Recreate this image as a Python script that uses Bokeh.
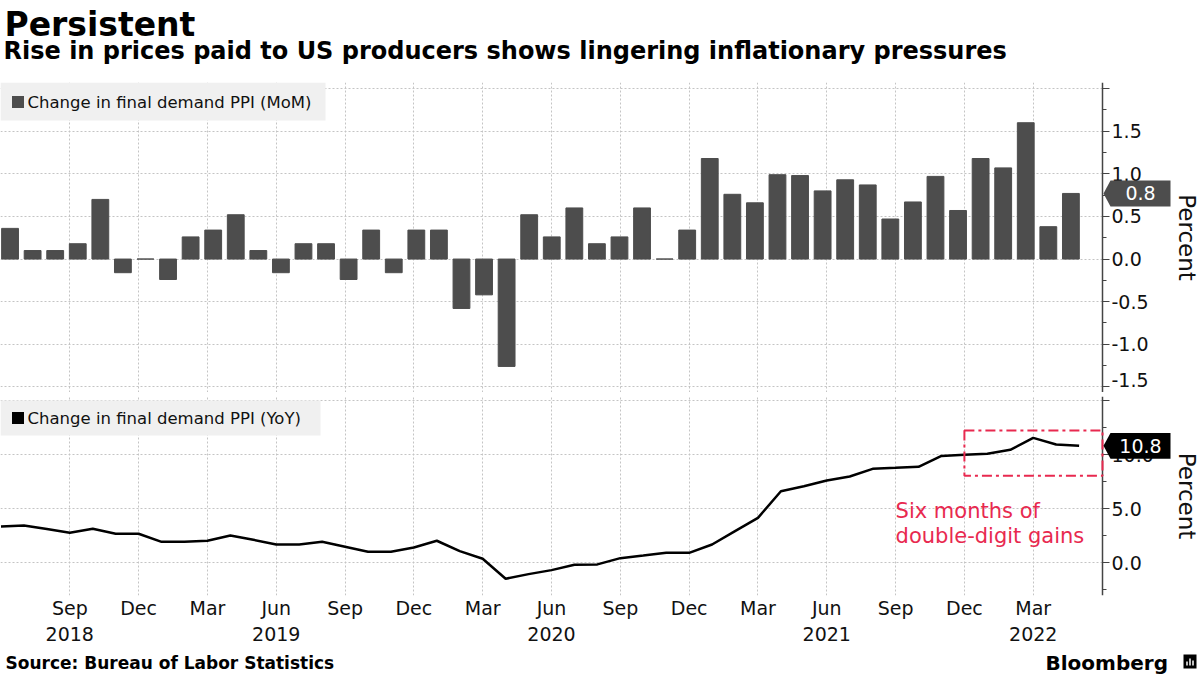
import pandas as pd
from bokeh.plotting import figure
from bokeh.layouts import column
from bokeh.models import (Range1d, FixedTicker, SingleIntervalTicker, PrintfTickFormatter,
                          BoxAnnotation, PolyAnnotation, Label)
from bokeh.core.properties import value
from bokeh.core.validation import silence
from bokeh.core.validation.warnings import MISSING_RENDERERS
from bokeh.embed import file_html
from bokeh.resources import INLINE

silence(MISSING_RENDERERS, True)

# ---------------- data ----------------
months = [p.strftime("%Y-%m") for p in pd.period_range("2018-06", "2022-05", freq="M")]
mom = [0.36, 0.10, 0.10, 0.18, 0.70, -0.16, 0.00, -0.24, 0.26, 0.34, 0.52, 0.10,
       -0.16, 0.18, 0.18, -0.24, 0.34, -0.16, 0.34, 0.34, -0.58, -0.42, -1.26, 0.52,
       0.26, 0.60, 0.18, 0.26, 0.60, 0.00, 0.34, 1.18, 0.76, 0.66, 0.99, 0.98,
       0.80, 0.93, 0.87, 0.47, 0.67, 0.97, 0.57, 1.18, 1.07, 1.60, 0.38, 0.77]
yoy = [3.36, 3.46, 3.12, 2.78, 3.15, 2.69, 2.69, 1.94, 1.94, 2.04, 2.53, 2.13,
       1.70, 1.70, 1.94, 1.48, 1.02, 1.02, 1.42, 2.04, 1.08, 0.37, -1.48, -1.05,
       -0.68, -0.19, -0.15, 0.43, 0.67, 0.92, 0.92, 1.69, 2.93, 4.16, 6.63, 7.09,
       7.62, 7.99, 8.70, 8.79, 8.89, 9.90, 10.00, 10.09, 10.46, 11.57, 10.95, 10.83]
tick_months = ["2018-09", "2018-12", "2019-03", "2019-06", "2019-09", "2019-12",
               "2020-03", "2020-06", "2020-09", "2020-12", "2021-03", "2021-06",
               "2021-09", "2021-12", "2022-03"]
tick_labels = ["Sep\n2018", "Dec", "Mar", "Jun\n2019", "Sep", "Dec", "Mar", "Jun\n2020",
               "Sep", "Dec", "Mar", "Jun\n2021", "Sep", "Dec", "Mar\n2022"]
mom_name = "Change in final demand PPI (MoM)"
yoy_name = "Change in final demand PPI (YoY)"
title_text = "Persistent"
subtitle_text = "Rise in prices paid to US producers shows lingering inflationary pressures"
source_text = "Source: Bureau of Labor Statistics"
highlight_from = "2021-12"
highlight_low, highlight_high = 8.05, 12.25
note_at = "2021-09"
note_text = "Six months of\ndouble-digit gains"

# ---------------- styling ----------------
FONT = "DejaVu Sans"
W = 1200
PX_AXIS = 1102          # pixel position of the value axis
GRID = "#c4c4c4"
BAR = "#4d4d4d"
RED = "#e8294f"
AXIS = "#444444"
TXT = "#111111"

x = list(range(len(months)))
n = len(months)
tick_idx = [months.index(m) for m in tick_months]

X0 = -0.021                     # month-index at left edge
XA = n + 0.02                   # month-index where the value axis sits
X1 = X0 + (XA - X0) * W / PX_AXIS
B0 = -0.423                     # bar-slot index at left edge
B1 = B0 + (n + 0.40 - B0) * W / PX_AXIS


def base(height, **kw):
    p = figure(width=W, height=height, toolbar_location=None, output_backend="svg",
               min_border_left=0, min_border_right=0, **kw)
    p.outline_line_color = None
    p.background_fill_color = "white"
    p.border_fill_color = "white"
    return p


def style_grid(p):
    p.xgrid.ticker = FixedTicker(ticks=tick_idx)
    p.ygrid.cross_bounds = (X0, XA)
    for g in p.grid:
        g.grid_line_color = GRID
        g.grid_line_dash = "2 2"
        g.grid_line_width = 1


def style_yaxis(p, interval, overrides, standoff):
    ax = p.yaxis[0]
    ax.fixed_location = XA
    ax.ticker = SingleIntervalTicker(interval=interval, num_minor_ticks=2)
    ax.formatter = PrintfTickFormatter(format="%.1f")
    ax.major_label_overrides = overrides
    ax.axis_line_color = AXIS
    ax.axis_line_width = 1.5
    ax.major_tick_line_color = AXIS
    ax.minor_tick_line_color = AXIS
    ax.major_tick_in = 0
    ax.major_tick_out = 7
    ax.minor_tick_in = 0
    ax.minor_tick_out = 4
    ax.major_label_standoff = 2
    ax.major_label_text_font = FONT
    ax.major_label_text_font_size = "19px"
    ax.major_label_text_color = TXT
    ax.axis_label = "Percent"
    ax.axis_label_text_font = FONT
    ax.axis_label_text_font_size = "23px"
    ax.axis_label_text_font_style = "normal"
    ax.axis_label_text_color = TXT
    ax.axis_label_standoff = standoff


def ypx(p, frame_h, px):
    """data-y of a point px pixels below the top of the frame"""
    r = p.y_range
    return r.end - px * (r.end - r.start) / frame_h


def legend_box(p, frame_h, top_px, h_px, w_px, center_px, key_color, text):
    p.add_layout(BoxAnnotation(left=0, right=w_px, left_units="screen", right_units="screen",
                               top=ypx(p, frame_h, top_px), bottom=ypx(p, frame_h, top_px + h_px),
                               fill_color="#f0f0f0", fill_alpha=1, line_color=None, line_alpha=0))
    p.add_layout(BoxAnnotation(left=11.5, right=23.5, left_units="screen", right_units="screen",
                               top=ypx(p, frame_h, center_px - 6), bottom=ypx(p, frame_h, center_px + 6),
                               fill_color=key_color, fill_alpha=1, line_color=None, line_alpha=0))
    p.add_layout(Label(x=27, x_units="screen", y=ypx(p, frame_h, center_px), y_units="data",
                       text=text, text_font=FONT, text_font_size="16.5px", text_color=TXT,
                       text_baseline="middle", text_align="left"))


def callout(p, v, half, color):
    p.add_layout(PolyAnnotation(xs=[1103, 1110, 1170, 1170, 1110], xs_units="screen",
                                ys=[v, v + half, v + half, v - half, v - half], ys_units="data",
                                fill_color=color, fill_alpha=1, line_color=None, line_alpha=0))
    p.add_layout(Label(x=1140, x_units="screen", y=v, y_units="data", text=f"{v:.1f}",
                       text_color="white", text_align="center", text_baseline="middle",
                       text_font=FONT, text_font_size="19px"))


# ---------------- header ----------------
head = base(80, x_range=Range1d(0, W), y_range=Range1d(80, 0),
            x_axis_location=None, y_axis_location=None, min_border=0)
head.grid.visible = False
head.text(x=[4], y=[24], text=[title_text], text_font=value(FONT), text_font_style="bold",
          text_font_size="33px", text_baseline="middle", text_color="black")
head.text(x=[3], y=[50], text=[subtitle_text], text_font=value(FONT), text_font_style="bold",
          text_font_size="24px", text_baseline="middle", text_color="black")

# ---------------- top panel: MoM bars ----------------
H1 = 310
p1 = base(H1 + 2, x_range=Range1d(X0, X1), y_range=Range1d(-1.566, 2.072),
          x_axis_location=None, y_axis_location="right",
          min_border_top=2, min_border_bottom=0)
p1.extra_x_ranges = {"bars": Range1d(B0, B1)}
p1.vbar(x=x, top=mom, width=0.745, x_range_name="bars", fill_color=BAR, line_color=BAR,
        line_width=1)
style_grid(p1)
style_yaxis(p1, 0.5, {2: "", -1.5: ""}, 22)
p1.text(x=[XA], y=[-1.5], text=["-1.5"], x_offset=9, y_offset=-7, text_font=value(FONT),
        text_font_size="19px", text_color=TXT, text_baseline="middle", text_align="left")
legend_box(p1, H1, 0, 38, 325, 19.5, BAR, mom_name)
callout(p1, mom[-1], 0.153, BAR)

# ---------------- separator ----------------
sep = base(4, x_range=Range1d(0, W), y_range=Range1d(0, 4),
           x_axis_location=None, y_axis_location=None, min_border=0)
sep.grid.visible = False
sep.background_fill_color = "#333333"
sep.border_fill_color = "#333333"
sep.segment(x0=[592, 592], y0=[1.5, 2.8], x1=[608, 608], y1=[1.5, 2.8],
            line_color="#9a9a9a", line_width=0.8)

# ---------------- bottom panel: YoY line ----------------
H2 = 199
p2 = base(H2 + 56, x_range=Range1d(X0, X1), y_range=Range1d(-3.03, 15.4),
          x_axis_location="below", y_axis_location="right",
          min_border_top=0, min_border_bottom=56)
p2.line(x=x, y=yoy, line_color="black", line_width=2.5)
style_grid(p2)
style_yaxis(p2, 5, {15: ""}, 17)
xa = p2.xaxis[0]
xa.ticker = FixedTicker(ticks=tick_idx)
xa.major_label_overrides = dict(zip(tick_idx, tick_labels))
xa.axis_line_color = None
xa.major_tick_line_color = None
xa.minor_tick_line_color = None
xa.major_label_standoff = -5
xa.major_label_text_font = FONT
xa.major_label_text_font_size = "19px"
xa.major_label_text_color = TXT
legend_box(p2, H2, 4, 35, 320, 21.5, "black", yoy_name)
p2.add_layout(BoxAnnotation(left=months.index(highlight_from), right=XA, bottom=highlight_low,
                            top=highlight_high, fill_alpha=0, line_color=RED, line_alpha=1,
                            line_width=2, line_dash="10 4 3 4"))
p2.text(x=[months.index(note_at)], y=[5.93], text=[note_text], text_font=value(FONT),
        text_font_size="21px", text_color=RED, text_align="left", text_baseline="top",
        text_line_height=1.04)
callout(p2, yoy[-1], 1.2, "black")

# ---------------- footer ----------------
foot = base(24, x_range=Range1d(0, W), y_range=Range1d(24, 0),
            x_axis_location=None, y_axis_location=None, min_border=0)
foot.grid.visible = False
foot.text(x=[5], y=[11], text=[source_text], text_font=value(FONT), text_font_style="bold",
          text_font_size="17px", text_baseline="middle", text_color="black")
foot.text(x=[1045], y=[11], text=["Bloomberg"], text_font=value(FONT), text_font_style="bold",
          text_font_size="20px", text_baseline="middle", text_color="black")
foot.quad(left=[1183], right=[1196], top=[3], bottom=[17], fill_color="black", line_color=None)
foot.segment(x0=[1186.5, 1189.5, 1192.5], y0=[14, 14, 14], x1=[1186.5, 1189.5, 1192.5],
             y1=[10, 7, 9], line_color="white", line_width=1.5)

layout = column(head, p1, sep, p2, foot, spacing=0)
open("out.html", "w").write(file_html(layout, INLINE))
